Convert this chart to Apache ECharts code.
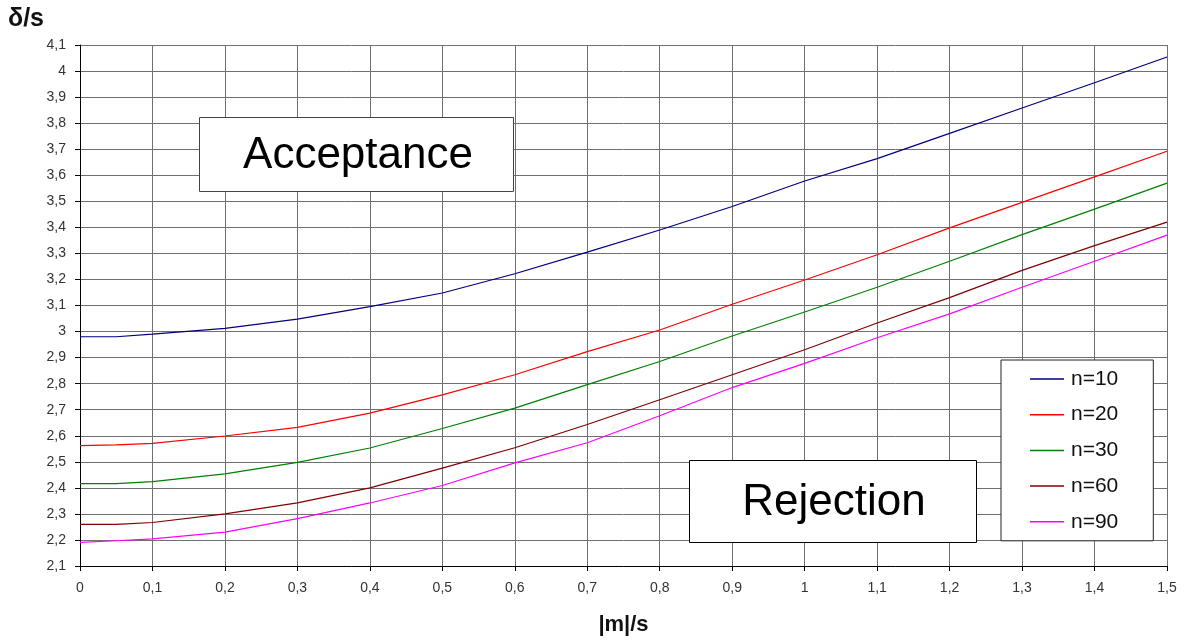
<!DOCTYPE html>
<html>
<head>
<meta charset="utf-8">
<script src="https://cdn.jsdelivr.net/npm/echarts@6/dist/echarts.min.js"></script>
<style>
html,body{margin:0;padding:0;background:#fff;}
#chart{width:1185px;height:642px;}
</style>
</head>
<body>
<div id="chart"></div>
<script>
const xValues = [0, 0.05, 0.1, 0.2, 0.3, 0.4, 0.5, 0.6, 0.7, 0.8, 0.9, 1.0, 1.1, 1.2, 1.3, 1.4, 1.5];
const seriesNames = ['n=10', 'n=20', 'n=30', 'n=60', 'n=90'];
const n10 = [2.98, 2.98, 2.99, 3.012, 3.048, 3.096, 3.148, 3.222, 3.305, 3.39, 3.48, 3.578, 3.664, 3.761, 3.858, 3.955, 4.054];
const n20 = [2.562, 2.565, 2.571, 2.599, 2.632, 2.687, 2.757, 2.834, 2.923, 3.006, 3.105, 3.198, 3.295, 3.398, 3.496, 3.594, 3.692];
const n30 = [2.416, 2.416, 2.424, 2.454, 2.498, 2.553, 2.628, 2.706, 2.796, 2.885, 2.983, 3.075, 3.17, 3.27, 3.372, 3.47, 3.57];
const n60 = [2.26, 2.26, 2.267, 2.3, 2.342, 2.4, 2.476, 2.554, 2.643, 2.738, 2.834, 2.93, 3.033, 3.13, 3.235, 3.33, 3.42];
const n90 = [2.191, 2.197, 2.204, 2.23, 2.282, 2.342, 2.409, 2.496, 2.573, 2.677, 2.785, 2.878, 2.976, 3.068, 3.17, 3.27, 3.37];
const seriesValues = [n10, n20, n30, n60, n90];
const seriesColors = ['#000080', '#ff0000', '#008000', '#800000', '#ff00ff'];
const xAxisName = '|m|/s';
const yAxisName = 'δ/s';
const regionLabels = ['Acceptance', 'Rejection'];

const FONT = '"Liberation Sans", Arial, sans-serif';
const fmt = v => String(Math.round(v * 10) / 10).replace('.', ',');

const chart = echarts.init(document.getElementById('chart'));
chart.setOption({
  animation: false,
  backgroundColor: '#fff',
  grid: { left: 80, right: 18, top: 45, bottom: 76, containLabel: false, outerBoundsMode: 'none' },
  xAxis: {
    type: 'value', min: 0, max: 1.5, interval: 0.1,
    axisLine: { show: true, lineStyle: { color: '#000', width: 1 } },
    axisTick: { show: true, length: 5, lineStyle: { color: '#000' } },
    axisLabel: { formatter: fmt, color: '#333', fontSize: 14, fontFamily: FONT, margin: 15 },
    splitLine: { show: true, lineStyle: { color: '#707070', width: 1 } },
    name: xAxisName, nameLocation: 'middle', nameGap: 48,
    nameTextStyle: { fontSize: 22, fontWeight: 'bold', color: '#111', fontFamily: FONT }
  },
  yAxis: {
    type: 'value', min: 2.1, max: 4.1, interval: 0.1,
    axisLine: { show: true, lineStyle: { color: '#000', width: 1 } },
    axisTick: { show: true, length: 5, lineStyle: { color: '#000' } },
    axisLabel: { formatter: fmt, color: '#333', fontSize: 14, fontFamily: FONT, margin: 14 },
    splitLine: { show: true, lineStyle: { color: '#707070', width: 1 } },
    name: yAxisName, nameLocation: 'end', nameGap: 0,
    nameTextStyle: { fontSize: 25, fontWeight: 'bold', color: '#111', fontFamily: FONT,
      align: 'left', verticalAlign: 'bottom', padding: [0, 0, 13, -72] }
  },
  legend: {
    orient: 'vertical', left: 1001, top: 360,
    data: seriesNames,
    icon: 'rect', itemWidth: 34, itemHeight: 1.5, itemGap: 13.7,
    padding: [8, 35, 8, 29],
    borderColor: '#222', borderWidth: 1, backgroundColor: '#fff',
    textStyle: { fontSize: 21, color: '#111', fontFamily: FONT, lineHeight: 22, padding: [0, 0, 0, 2] }
  },
  graphic: [
    { type: 'rect', left: 199, top: 117, shape: { width: 314, height: 74 },
      style: { fill: '#fff', stroke: '#444', lineWidth: 1 }, z: 10 },
    { type: 'text', x: 358, y: 156, z: 11,
      style: { text: regionLabels[0], fontSize: 44, fontFamily: FONT, fill: '#000',
        textAlign: 'center', textVerticalAlign: 'middle' } },
    { type: 'rect', left: 689, top: 460, shape: { width: 287, height: 82 },
      style: { fill: '#fff', stroke: '#000', lineWidth: 1 }, z: 10 },
    { type: 'text', x: 834, y: 503, z: 11,
      style: { text: regionLabels[1], fontSize: 44, fontFamily: FONT, fill: '#000',
        textAlign: 'center', textVerticalAlign: 'middle' } }
  ],
  series: seriesNames.map((name, i) => ({
    name, type: 'line', symbol: 'none', smooth: false,
    data: xValues.map((x, j) => [x, seriesValues[i][j]]),
    lineStyle: { color: seriesColors[i], width: 1.2 },
    itemStyle: { color: seriesColors[i] }
  }))
});
</script>
</body>
</html>
